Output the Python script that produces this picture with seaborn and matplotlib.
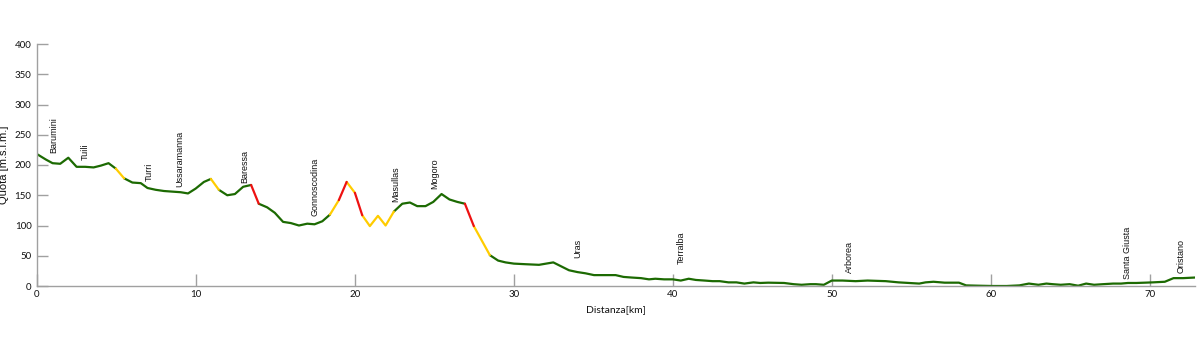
import matplotlib
matplotlib.use("Agg")
import matplotlib.pyplot as plt
import numpy as np
import pandas as pd
import seaborn as sns

# Altimetric profile Barumini - Oristano
km = [0.0, 0.56, 0.98, 1.46, 1.97, 2.49, 3.03, 3.56, 4.02, 4.5, 4.96, 5.48, 6.0, 6.53,
      6.95, 7.47, 7.99, 8.51, 9.04, 9.5, 9.98, 10.5, 10.94, 11.44, 11.97, 12.45, 12.97,
      13.47, 13.95, 14.48, 14.96, 15.48, 15.97, 16.48, 17.0, 17.46, 17.95, 18.43, 18.99,
      19.48, 20.0, 20.46, 20.94, 21.45, 21.93, 22.45, 22.98, 23.46, 23.92, 24.44, 24.93,
      25.45, 25.95, 26.44, 26.92, 27.48, 28.49, 29.01, 29.48, 30.0, 30.74, 31.58, 32.48,
      33.47, 34.0, 34.5, 35.04, 36.4, 36.9, 37.4, 38.0, 38.5, 38.9, 39.45, 40.0, 40.5,
      41.0, 41.45, 42.0, 42.5, 42.95, 43.5, 44.0, 44.5, 45.07, 45.5, 46.0, 47.0, 47.6,
      48.1, 48.65, 49.0, 49.5, 50.0, 50.67, 51.5, 52.25, 53.4, 54.2, 54.85, 55.5, 55.9,
      56.4, 57.1, 58.0, 58.45, 59.2, 60.1, 61.0, 61.8, 62.4, 63.0, 63.5, 63.9, 64.4,
      64.96, 65.5, 66.0, 66.5, 67.06, 67.7, 68.2, 68.63, 69.16, 69.7, 70.2, 70.95, 71.5,
      72.1, 72.85]
quota = [218, 209, 203, 202, 212, 197, 197, 196, 199, 203, 194, 178, 171, 170,
         162, 159, 157, 156, 155, 153, 161, 172, 177, 159, 150, 152, 164,
         167, 136, 130, 121, 106, 104, 100, 103, 102, 107, 118, 142,
         172, 154, 117, 99, 116, 100, 123, 136, 138, 132, 132, 139,
         152, 143, 139, 136, 99, 51, 42, 39, 37, 36, 35, 39,
         26, 23, 21, 18, 18, 15, 14, 13, 11, 12, 11, 11, 9,
         12, 10, 9, 8, 8, 6, 6, 4, 6, 5, 5.5, 5, 3,
         2, 3, 3, 2, 9, 9, 8, 9, 8, 6, 5, 4, 6,
         7, 5.5, 5.5, 1, 0.5, 0, 0, 1, 4, 2, 4, 3, 2,
         3, 0.5, 4, 2, 3, 4, 4, 5, 5, 5.5, 6, 7, 13,
         13, 14]

# Gradient class of each stretch between consecutive points: g = gentle, y = medium, r = steep
pendenza = (["g"] * 10 + ["y"] + ["g"] * 11 + ["y"] + ["g"] * 4 + ["r"] + ["g"] * 9
            + ["y", "r", "y", "r", "y", "y", "y", "y"] + ["g"] * 9 + ["r", "y"]
            + ["g"] * (len(km) - 57))

# Towns along the route
localita = ["Barumini", "Tuili", "Turri", "Ussaramanna", "Baressa", "Gonnoscodina",
            "Masullas", "Mogoro", "Uras", "Terralba", "Arborea", "Santa Giusta", "Oristano"]
km_localita = [1.03, 3.06, 7.04, 9.0, 13.08, 17.48, 22.58, 25.03, 34.05, 40.5, 51.09, 68.6, 72.0]
quota_etichetta = [220, 209, 174, 164, 171, 115, 139, 160, 46, 36, 22, 11, 21]

# Split the profile into runs of equal gradient class
rows = []
tratto = 0
for i in range(len(km) - 1):
    if i > 0 and pendenza[i] != pendenza[i - 1]:
        tratto += 1
    rows.append((tratto, pendenza[i], km[i], quota[i], i))
    rows.append((tratto, pendenza[i], km[i + 1], quota[i + 1], i + 0.5))
df = pd.DataFrame(rows, columns=["tratto", "classe", "km", "quota", "ordine"])
df = df.drop_duplicates(subset=["tratto", "km"]).sort_values("ordine")

sns.set_theme(style="white")
plt.rcParams["font.family"] = ["Liberation Sans", "DejaVu Sans"]

fig = plt.figure(figsize=(12, 3.4), dpi=100)
ax = fig.add_axes([37 / 1200, 54 / 340, 1158 / 1200, 242 / 340])

palette = {"g": "#1c6a02", "y": "#ffcc00", "r": "#ee1111"}
sns.lineplot(data=df, x="km", y="quota", hue="classe", units="tratto",
             estimator=None, sort=False, palette=palette, legend=False,
             linewidth=1.6, ax=ax)

for nome, x, y in zip(localita, km_localita, quota_etichetta):
    ax.text(x, y, nome, rotation=90, ha="center", va="bottom", fontsize=6.5,
            color="#111111")

ax.set_xlim(0, 72.85)
ax.set_ylim(0, 400)
ax.set_xticks(np.arange(0, 71, 10))
ax.set_yticks(np.arange(0, 401, 50))

grey = "#a0a0a0"
for side in ["top", "right"]:
    ax.spines[side].set_visible(False)
for side in ["left", "bottom"]:
    ax.spines[side].set_color(grey)
    ax.spines[side].set_linewidth(1.0)

ax.tick_params(axis="x", bottom=True, direction="in", length=9, width=1, color=grey,
               pad=3, labelsize=7, labelcolor="#111111")
ax.tick_params(axis="y", left=True, direction="in", length=8, width=1, color=grey,
               pad=4, labelsize=7, labelcolor="#111111")
for lab in ax.get_xticklabels() + ax.get_yticklabels():
    lab.set_family(["Lato", "DejaVu Sans"])

ax.set_xlabel("Distanza[km]", fontsize=7.5, family=["Lato", "DejaVu Sans"],
              color="#111111", labelpad=4)
ax.set_ylabel("Quota [m.s.l.m.]", fontsize=8, color="#111111")
ax.yaxis.set_label_coords(-0.024, 0.5)

fig.savefig("out.png", dpi=100, facecolor="white")
